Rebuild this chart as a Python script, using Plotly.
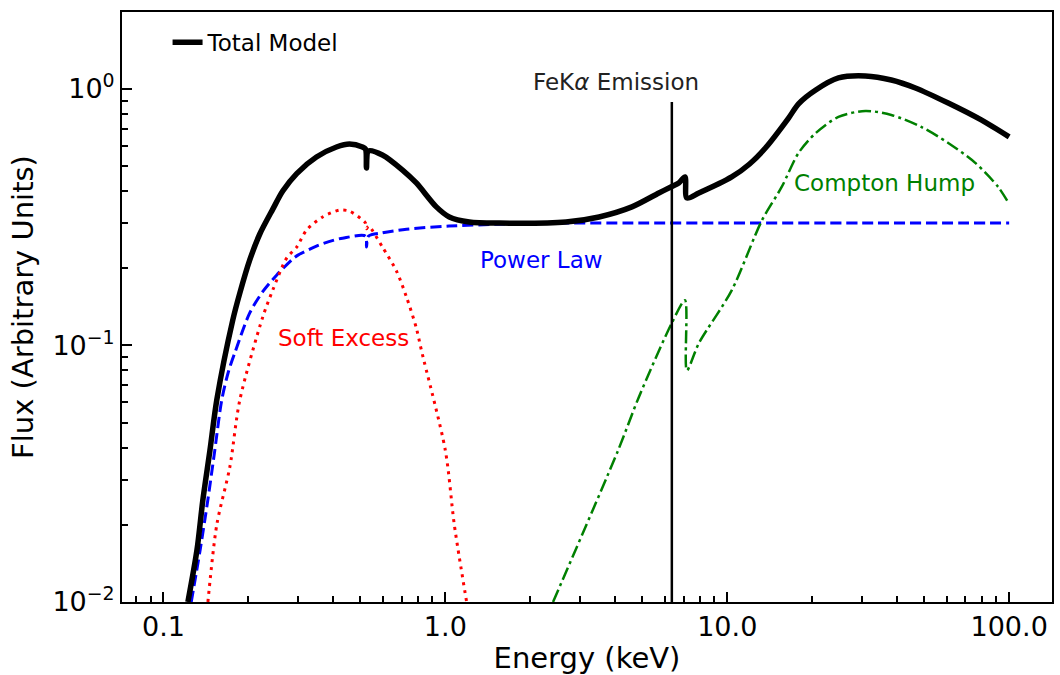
import numpy as np
import plotly.graph_objects as go

# ---------------- data ----------------
TOTAL_E = [0.1221, 0.1315, 0.138, 0.1462, 0.1546, 0.1762, 0.1866, 0.2024, 0.2197, 0.2443,
           0.265, 0.297, 0.349, 0.411, 0.457, 0.508, 0.521, 0.525, 0.534, 0.598,
           0.705, 0.789, 0.929, 1.033, 1.216, 1.553, 2.68, 3.51, 4.59, 5.72,
           6.31, 6.73, 7.08, 7.19, 7.93, 10.37, 12.0, 13.68, 16.5, 17.9, 20.6,
           24.8, 30.9, 38.2, 46.5, 60.8, 79.6, 100.0]
TOTAL_F = [0.01, 0.01595, 0.025, 0.039, 0.0613, 0.1257, 0.160, 0.2155, 0.272, 0.340,
           0.400, 0.468, 0.543, 0.594, 0.61, 0.594, 0.583, 0.492, 0.573, 0.553,
           0.483, 0.430, 0.347, 0.317, 0.303, 0.300, 0.303, 0.317, 0.347, 0.393,
           0.415, 0.430, 0.454, 0.376, 0.393, 0.454, 0.510, 0.590, 0.770, 0.875, 0.991,
           1.104, 1.124, 1.084, 1.009, 0.881, 0.757, 0.65]

POWER_E = [0.1255, 0.135, 0.1437, 0.1521, 0.161, 0.170, 0.180, 0.2024, 0.225, 0.252,
           0.287, 0.300, 0.349, 0.400, 0.432, 0.521, 0.525, 0.534, 0.598, 0.728,
           1.03, 1.55, 2.0, 5.0, 10.0, 30.0, 100.0]
POWER_F = [0.01, 0.016, 0.025, 0.039, 0.0613, 0.079, 0.095, 0.134, 0.162, 0.188,
           0.217, 0.225, 0.244, 0.257, 0.262, 0.267, 0.242, 0.267, 0.275, 0.284,
           0.292, 0.297, 0.30, 0.30, 0.30, 0.30, 0.30]

SOFT_E = [0.1438, 0.1546, 0.172, 0.1866, 0.225, 0.244, 0.2735, 0.297, 0.322, 0.367,
          0.4217, 0.457, 0.508, 0.521, 0.525, 0.534, 0.598, 0.671, 0.728, 0.789,
          0.822, 1.0, 1.076, 1.19]
SOFT_F = [0.01, 0.020, 0.0336, 0.0613, 0.129, 0.164, 0.219, 0.242, 0.282, 0.317,
          0.337, 0.334, 0.309, 0.300, 0.285, 0.292, 0.242, 0.195, 0.1545, 0.117,
          0.096, 0.039, 0.020, 0.01]

COMPTON_E = [2.41, 4.10, 4.86, 6.36, 7.08, 7.19, 7.93, 10.37, 13.25, 15.6,
             17.9, 20.6, 24.8, 30.9, 38.2, 48.8, 60.8, 75.8, 91.4, 100.0]
COMPTON_F = [0.01, 0.039, 0.063, 0.1224, 0.150, 0.080, 0.102, 0.164, 0.306, 0.415,
             0.563, 0.673, 0.778, 0.821, 0.792, 0.711, 0.616, 0.515, 0.415, 0.356]

FE_LINE_E = [6.36, 6.36]
FE_LINE_F = [0.01, 0.89]

X_TICKS = [0.1, 1.0, 10.0, 100.0]
X_TICK_LABELS = ["0.1", "1.0", "10.0", "100.0"]
X_MINOR = [0.08, 0.09, 0.2, 0.3, 0.4, 0.5, 0.6, 0.7, 0.8, 0.9,
           2, 3, 4, 5, 6, 7, 8, 9, 20, 30, 40, 50, 60, 70, 80, 90]
Y_TICKS = [0.01, 0.1, 1.0]
Y_TICK_LABELS = ["10<sup>\u22122</sup>", "10<sup>\u22121</sup>", "10<sup>0</sup>"]
Y_MINOR = [0.02, 0.03, 0.04, 0.05, 0.06, 0.07, 0.08, 0.09,
           0.2, 0.3, 0.4, 0.5, 0.6, 0.7, 0.8, 0.9]

# ---------------- figure ----------------
fig = go.Figure()

fig.add_trace(go.Scatter(x=POWER_E, y=POWER_F, mode="lines", name="Power Law",
                         showlegend=False,
                         line=dict(color="#0000ff", width=3, dash="11px,5px",
                                   shape="spline", smoothing=0.8)))
fig.add_trace(go.Scatter(x=SOFT_E, y=SOFT_F, mode="lines", name="Soft Excess",
                         showlegend=False,
                         line=dict(color="#ff0000", width=3, dash="3px,5px",
                                   shape="spline", smoothing=0.8)))
fig.add_trace(go.Scatter(x=COMPTON_E, y=COMPTON_F, mode="lines", name="Compton Hump",
                         showlegend=False,
                         line=dict(color="#008000", width=2.5, dash="13px,4px,3px,4px",
                                   shape="spline", smoothing=0.8)))
fig.add_trace(go.Scatter(x=FE_LINE_E, y=FE_LINE_F, mode="lines", name="FeK\u03b1",
                         showlegend=False,
                         line=dict(color="black", width=2.5)))
fig.add_trace(go.Scatter(x=TOTAL_E, y=TOTAL_F, mode="lines", name="Total Model",
                         showlegend=True,
                         line=dict(color="black", width=5.5,
                                   shape="spline", smoothing=0.8)))

axis_common = dict(
    type="log", showline=True, linecolor="black", linewidth=2, mirror=True,
    ticks="inside", ticklen=10, tickwidth=1.5, tickcolor="black",
    showgrid=False, zeroline=False,
)

fig.update_xaxes(
    **axis_common,
    range=[-1.147, 2.152],
    tickmode="array", tickvals=X_TICKS, ticktext=X_TICK_LABELS,
    tickfont=dict(size=27, color="black"),
    minor=dict(tickmode="array", tickvals=X_MINOR, ticks="inside", ticklen=6,
               tickwidth=1.5, tickcolor="black", showgrid=False),
    title=dict(text="Energy (keV)", font=dict(size=29, color="black"), standoff=6),
)
fig.update_yaxes(
    **axis_common,
    range=[-2.0, 0.30],
    tickmode="array", tickvals=Y_TICKS, ticktext=Y_TICK_LABELS,
    tickfont=dict(size=27, color="black"),
    minor=dict(tickmode="array", tickvals=Y_MINOR, ticks="inside", ticklen=6,
               tickwidth=1.5, tickcolor="black", showgrid=False),
    title=dict(text="Flux (Arbitrary Units)", font=dict(size=29, color="black"), standoff=10),
)

ann_font = "DejaVu Sans"
annotations = [
    dict(text="FeK<i>\u03b1</i> Emission", x=np.log10(4.03), y=0.027, color="#222222"),
    dict(text="Compton Hump", x=1.558, y=-0.366, color="#008000"),
    dict(text="Soft Excess", x=-0.361, y=-0.971, color="#ff0000"),
    dict(text="Power Law", x=0.340, y=-0.667, color="#0000ff"),
]
for a in annotations:
    fig.add_annotation(text=a["text"], x=a["x"], y=a["y"], xref="x", yref="y",
                       showarrow=False, xanchor="center", yanchor="middle",
                       font=dict(family=ann_font, size=23, color=a["color"]))

fig.update_layout(
    width=1060, height=675,
    margin=dict(l=122, r=6, t=12, b=73),
    paper_bgcolor="white", plot_bgcolor="white",
    font=dict(family="DejaVu Sans", color="black"),
    showlegend=True,
    legend=dict(x=0.049, y=0.985, xanchor="left", yanchor="top",
                bgcolor="rgba(0,0,0,0)", borderwidth=0,
                font=dict(size=23, color="black", family="DejaVu Sans")),
)

fig.write_html("out.html")
